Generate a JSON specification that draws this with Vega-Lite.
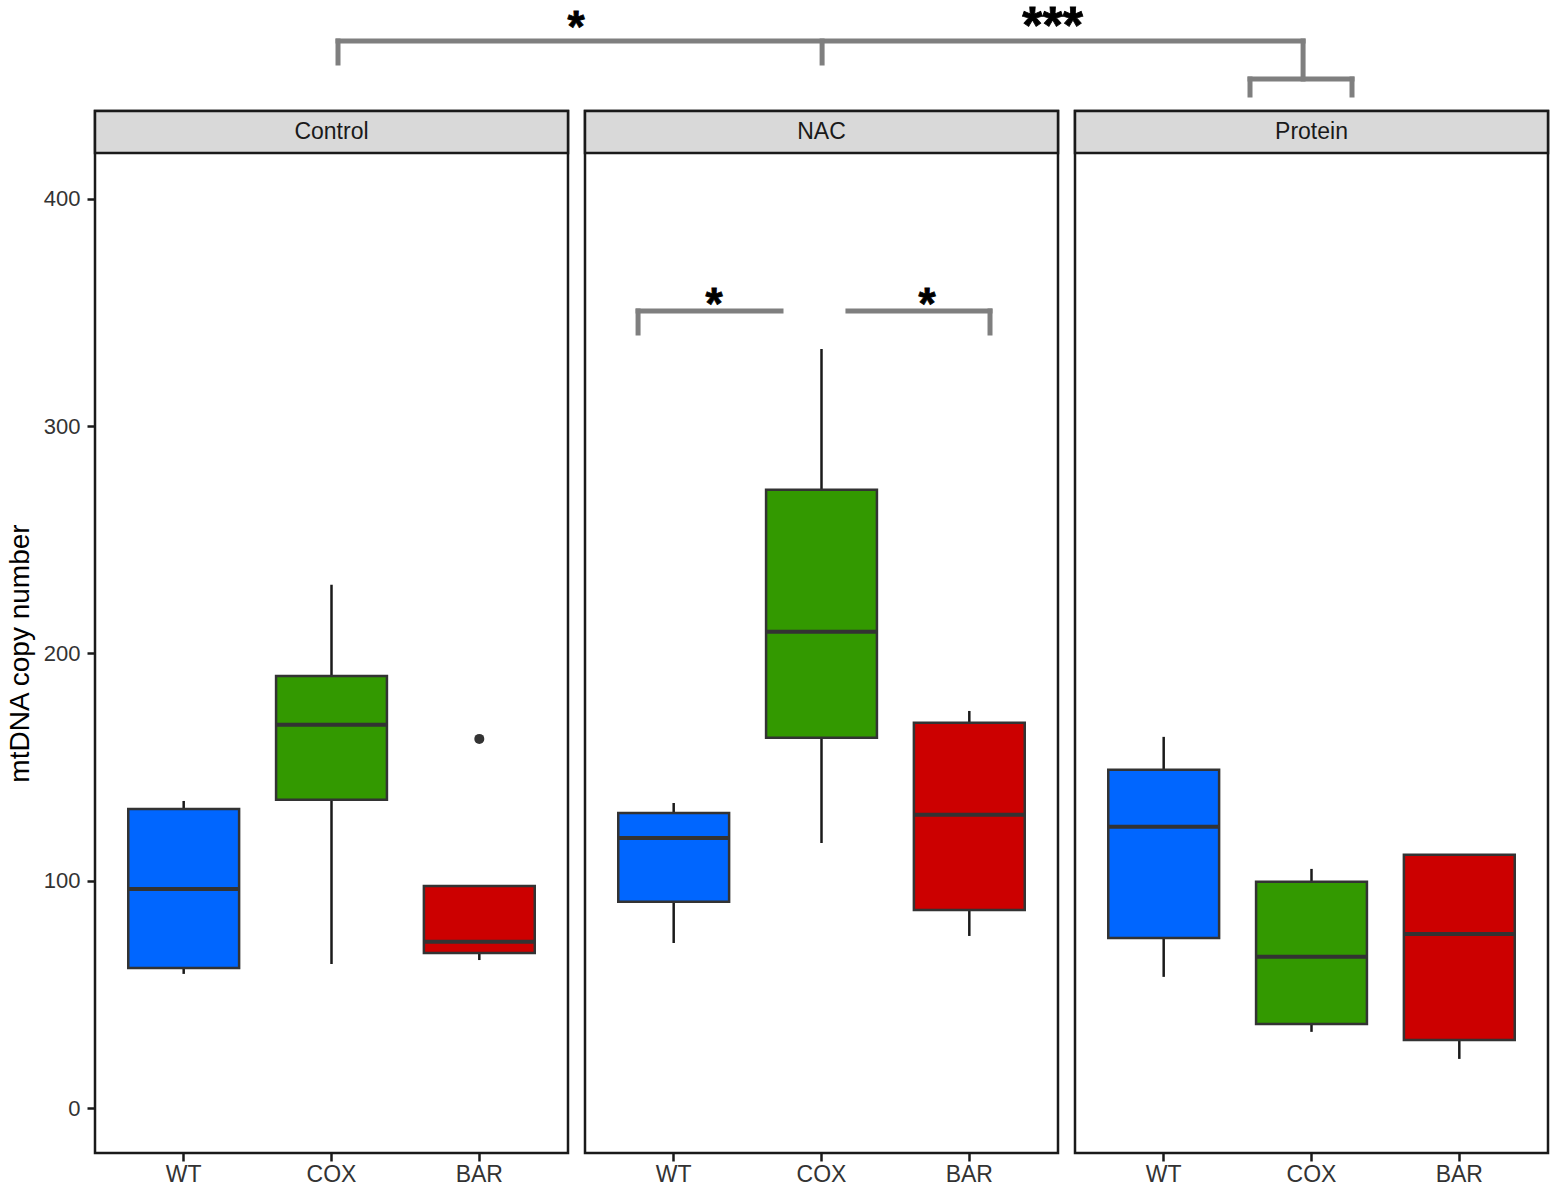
{
  "$schema": "https://vega.github.io/schema/vega-lite/v6.json",
  "description": "mtDNA copy number by genotype, faceted by treatment",
  "padding": {"top": 0, "left": 5, "right": 5, "bottom": 3},
  "config": {
    "font": "Liberation Sans",
    "view": {"stroke": "#1a1a1a", "strokeWidth": 2.5},
    "axis": {"grid": false, "domain": false, "tickColor": "#1a1a1a", "tickWidth": 2.5, "labelColor": "#333333", "titleColor": "#000000", "titleFontWeight": "normal"}
  },
  "spacing": 0,
  "datasets": {
    "boxes": [
      {"panel": "Control", "genotype": "WT", "lower": 59, "q1": 61.6, "median": 96.4, "q3": 131.6, "upper": 135.1},
      {"panel": "Control", "genotype": "COX", "lower": 63.4, "q1": 135.6, "median": 168.6, "q3": 190.1, "upper": 230.2},
      {"panel": "Control", "genotype": "BAR", "lower": 65.1, "q1": 68.2, "median": 73.1, "q3": 97.7, "upper": 97.7},
      {"panel": "NAC", "genotype": "WT", "lower": 72.6, "q1": 90.7, "median": 118.8, "q3": 129.8, "upper": 134.2},
      {"panel": "NAC", "genotype": "COX", "lower": 116.6, "q1": 162.9, "median": 209.5, "q3": 272, "upper": 334},
      {"panel": "NAC", "genotype": "BAR", "lower": 75.7, "q1": 87.1, "median": 129, "q3": 169.5, "upper": 174.7},
      {"panel": "Protein", "genotype": "WT", "lower": 57.7, "q1": 74.8, "median": 123.7, "q3": 148.8, "upper": 163.3},
      {"panel": "Protein", "genotype": "COX", "lower": 33.5, "q1": 37, "median": 66.5, "q3": 99.5, "upper": 105.2},
      {"panel": "Protein", "genotype": "BAR", "lower": 21.6, "q1": 29.9, "median": 76.6, "q3": 111.4, "upper": 111.4}
    ],
    "outliers": [
      {"panel": "Control", "genotype": "BAR", "value": 162.4}
    ],
    "topBrackets": [
      {"x1": 1.644, "x2": 8.173, "y1": 6.7, "y2": 6.7},
      {"x1": 1.644, "x2": 1.644, "y1": 6.7, "y2": 4.5},
      {"x1": 4.919, "x2": 4.919, "y1": 6.7, "y2": 4.5},
      {"x1": 8.173, "x2": 8.173, "y1": 6.7, "y2": 2.9},
      {"x1": 7.814, "x2": 8.504, "y1": 2.9, "y2": 2.9},
      {"x1": 7.814, "x2": 7.814, "y1": 2.9, "y2": 1.3},
      {"x1": 8.504, "x2": 8.504, "y1": 2.9, "y2": 1.3}
    ],
    "topStars": [
      {"x": 3.254, "y": 6.6, "label": "*", "size": 44},
      {"x": 6.478, "y": 6.55, "label": "***", "size": 52}
    ],
    "nacBrackets": [
      {"x1": 0.359, "x2": 1.326, "y1": 350.7, "y2": 350.7},
      {"x1": 0.359, "x2": 0.359, "y1": 350.7, "y2": 341.0},
      {"x1": 1.779, "x2": 2.74, "y1": 350.7, "y2": 350.7},
      {"x1": 2.74, "x2": 2.74, "y1": 350.7, "y2": 341.0}
    ],
    "nacStars": [
      {"x": 0.873, "y": 347.1, "label": "*"},
      {"x": 2.314, "y": 347.1, "label": "*"}
    ]
  },
  "vconcat": [
    {
      "width": 1453,
      "height": 100,
      "view": {"stroke": null},
      "layer": [
        {
          "data": {"name": "topBrackets"},
          "mark": {"type": "rule", "color": "#7f7f7f", "strokeWidth": 5, "strokeCap": "square"},
          "encoding": {
            "x": {"field": "x1", "type": "quantitative", "scale": {"domain": [0, 9.83], "nice": false, "zero": false}, "axis": null},
            "x2": {"field": "x2"},
            "y": {"field": "y1", "type": "quantitative", "scale": {"domain": [0, 10], "nice": false}, "axis": null},
            "y2": {"field": "y2"}
          }
        },
        {
          "data": {"name": "topStars"},
          "mark": {"type": "text", "fontWeight": "bold", "baseline": "alphabetic", "color": "#000000", "stroke": "#000000", "strokeWidth": 0.8},
          "encoding": {
            "x": {"field": "x", "type": "quantitative", "scale": {"domain": [0, 9.83], "nice": false, "zero": false}, "axis": null},
            "y": {"field": "y", "type": "quantitative", "scale": {"domain": [0, 10], "nice": false}, "axis": null},
            "text": {"field": "label"},
            "size": {"field": "size", "type": "quantitative", "scale": null, "legend": null}
          }
        }
      ]
    },
    {
      "hconcat": [
        {
          "width": 473, "height": 1042,
          "layer": [
            {
              "data": {"name": "boxes"},
              "transform": [{"filter": "datum.panel === 'Control'"}],
              "mark": {"type": "rule", "color": "#1a1a1a", "strokeWidth": 2.5},
              "encoding": {
                "x": {"field": "genotype", "type": "nominal", "sort": ["WT", "COX", "BAR"], "scale": {"paddingInner": 0.25, "paddingOuter": 0.225},
                      "axis": {"title": null, "labelAngle": 0, "labelFontSize": 23, "tickSize": 8, "labelPadding": 2}},
                "y": {"field": "lower", "type": "quantitative", "scale": {"domain": [-19.8, 438.68], "nice": false, "zero": false},
                      "title": "mtDNA copy number",
                      "axis": {"values": [0, 100, 200, 300, 400], "labelFontSize": 22, "tickSize": 8, "labelPadding": 7, "titleFontSize": 28, "titlePadding": 9, "titleY": 542}},
                "y2": {"field": "upper"}
              }
            },
            {
              "data": {"name": "boxes"},
              "transform": [{"filter": "datum.panel === 'Control'"}],
              "mark": {"type": "bar", "stroke": "#333333", "strokeWidth": 2.5},
              "encoding": {
                "x": {"field": "genotype", "type": "nominal", "sort": ["WT", "COX", "BAR"]},
                "y": {"field": "q1", "type": "quantitative", "title": "mtDNA copy number"},
                "y2": {"field": "q3"},
                "color": {"field": "genotype", "type": "nominal", "scale": {"domain": ["WT", "COX", "BAR"], "range": ["#0066FF", "#339900", "#CC0000"]}, "legend": null}
              }
            },
            {
              "data": {"name": "boxes"},
              "transform": [{"filter": "datum.panel === 'Control'"}],
              "mark": {"type": "tick", "color": "#333333", "thickness": 4, "size": 111, "opacity": 1},
              "encoding": {
                "x": {"field": "genotype", "type": "nominal", "sort": ["WT", "COX", "BAR"]},
                "y": {"field": "median", "type": "quantitative", "title": "mtDNA copy number"}
              }
            },
            {
              "data": {"name": "outliers"},
              "mark": {"type": "point", "filled": true, "color": "#333333", "size": 100, "opacity": 1},
              "encoding": {
                "x": {"field": "genotype", "type": "nominal", "sort": ["WT", "COX", "BAR"]},
                "y": {"field": "value", "type": "quantitative", "title": "mtDNA copy number"}
              }
            },
            {
              "data": {"values": [{"panel": "Control"}]},
              "layer": [
                {
                  "mark": {"type": "rect", "fill": "#D9D9D9", "stroke": "#1a1a1a", "strokeWidth": 2.5},
                  "encoding": {"y": {"datum": 420.2, "type": "quantitative", "title": "mtDNA copy number"}, "y2": {"datum": 438.68}}
                },
                {
                  "mark": {"type": "text", "fontSize": 23, "color": "#1a1a1a", "baseline": "middle"},
                  "encoding": {"y": {"datum": 429.44, "type": "quantitative", "title": "mtDNA copy number"}, "text": {"field": "panel"}}
                }
              ]
            }
          ]
        },
        {
          "resolve": {"scale": {"x": "independent"}, "axis": {"x": "independent"}},
          "layer": [
            {
              "width": 473, "height": 1042,
              "layer": [
                {
                  "data": {"name": "boxes"},
                  "transform": [{"filter": "datum.panel === 'NAC'"}],
                  "mark": {"type": "rule", "color": "#1a1a1a", "strokeWidth": 2.5},
                  "encoding": {
                    "x": {"field": "genotype", "type": "nominal", "sort": ["WT", "COX", "BAR"], "scale": {"paddingInner": 0.25, "paddingOuter": 0.225},
                          "axis": {"title": null, "labelAngle": 0, "labelFontSize": 23, "tickSize": 8, "labelPadding": 2}},
                    "y": {"field": "lower", "type": "quantitative", "scale": {"domain": [-19.8, 438.68], "nice": false, "zero": false}, "axis": null},
                    "y2": {"field": "upper"}
                  }
                },
                {
                  "data": {"name": "boxes"},
                  "transform": [{"filter": "datum.panel === 'NAC'"}],
                  "mark": {"type": "bar", "stroke": "#333333", "strokeWidth": 2.5},
                  "encoding": {
                    "x": {"field": "genotype", "type": "nominal", "sort": ["WT", "COX", "BAR"]},
                    "y": {"field": "q1", "type": "quantitative", "axis": null},
                    "y2": {"field": "q3"},
                    "color": {"field": "genotype", "type": "nominal", "scale": {"domain": ["WT", "COX", "BAR"], "range": ["#0066FF", "#339900", "#CC0000"]}, "legend": null}
                  }
                },
                {
                  "data": {"name": "boxes"},
                  "transform": [{"filter": "datum.panel === 'NAC'"}],
                  "mark": {"type": "tick", "color": "#333333", "thickness": 4, "size": 111, "opacity": 1},
                  "encoding": {
                    "x": {"field": "genotype", "type": "nominal", "sort": ["WT", "COX", "BAR"]},
                    "y": {"field": "median", "type": "quantitative", "axis": null}
                  }
                },
                {
                  "data": {"values": [{"panel": "NAC"}]},
                  "layer": [
                    {
                      "mark": {"type": "rect", "fill": "#D9D9D9", "stroke": "#1a1a1a", "strokeWidth": 2.5},
                      "encoding": {"y": {"datum": 420.2, "type": "quantitative", "axis": null}, "y2": {"datum": 438.68}}
                    },
                    {
                      "mark": {"type": "text", "fontSize": 23, "color": "#1a1a1a", "baseline": "middle"},
                      "encoding": {"y": {"datum": 429.44, "type": "quantitative", "axis": null}, "text": {"field": "panel"}}
                    }
                  ]
                }
              ]
            },
            {
              "width": 473, "height": 1042,
              "encoding": {
                "x": {"field": "x1", "type": "quantitative", "scale": {"domain": [0, 3.2], "nice": false, "zero": false}, "axis": null}
              },
              "layer": [
                {
                  "data": {"name": "nacBrackets"},
                  "mark": {"type": "rule", "color": "#7f7f7f", "strokeWidth": 5, "strokeCap": "square"},
                  "encoding": {
                    "x2": {"field": "x2"},
                    "y": {"field": "y1", "type": "quantitative", "axis": null},
                    "y2": {"field": "y2"}
                  }
                },
                {
                  "data": {"name": "nacStars"},
                  "mark": {"type": "text", "fontWeight": "bold", "fontSize": 44, "baseline": "alphabetic", "color": "#000000", "stroke": "#000000", "strokeWidth": 0.8},
                  "encoding": {
                    "x": {"field": "x", "type": "quantitative", "scale": {"domain": [0, 3.2], "nice": false, "zero": false}, "axis": null},
                    "y": {"field": "y", "type": "quantitative", "axis": null},
                    "text": {"field": "label"}
                  }
                }
              ]
            }
          ]
        },
        {
          "width": 473, "height": 1042,
          "layer": [
            {
              "data": {"name": "boxes"},
              "transform": [{"filter": "datum.panel === 'Protein'"}],
              "mark": {"type": "rule", "color": "#1a1a1a", "strokeWidth": 2.5},
              "encoding": {
                "x": {"field": "genotype", "type": "nominal", "sort": ["WT", "COX", "BAR"], "scale": {"paddingInner": 0.25, "paddingOuter": 0.225},
                      "axis": {"title": null, "labelAngle": 0, "labelFontSize": 23, "tickSize": 8, "labelPadding": 2}},
                "y": {"field": "lower", "type": "quantitative", "scale": {"domain": [-19.8, 438.68], "nice": false, "zero": false}, "axis": null},
                "y2": {"field": "upper"}
              }
            },
            {
              "data": {"name": "boxes"},
              "transform": [{"filter": "datum.panel === 'Protein'"}],
              "mark": {"type": "bar", "stroke": "#333333", "strokeWidth": 2.5},
              "encoding": {
                "x": {"field": "genotype", "type": "nominal", "sort": ["WT", "COX", "BAR"]},
                "y": {"field": "q1", "type": "quantitative", "axis": null},
                "y2": {"field": "q3"},
                "color": {"field": "genotype", "type": "nominal", "scale": {"domain": ["WT", "COX", "BAR"], "range": ["#0066FF", "#339900", "#CC0000"]}, "legend": null}
              }
            },
            {
              "data": {"name": "boxes"},
              "transform": [{"filter": "datum.panel === 'Protein'"}],
              "mark": {"type": "tick", "color": "#333333", "thickness": 4, "size": 111, "opacity": 1},
              "encoding": {
                "x": {"field": "genotype", "type": "nominal", "sort": ["WT", "COX", "BAR"]},
                "y": {"field": "median", "type": "quantitative", "axis": null}
              }
            },
            {
              "data": {"values": [{"panel": "Protein"}]},
              "layer": [
                {
                  "mark": {"type": "rect", "fill": "#D9D9D9", "stroke": "#1a1a1a", "strokeWidth": 2.5},
                  "encoding": {"y": {"datum": 420.2, "type": "quantitative", "axis": null}, "y2": {"datum": 438.68}}
                },
                {
                  "mark": {"type": "text", "fontSize": 23, "color": "#1a1a1a", "baseline": "middle"},
                  "encoding": {"y": {"datum": 429.44, "type": "quantitative", "axis": null}, "text": {"field": "panel"}}
                }
              ]
            }
          ]
        }
      ],
      "spacing": 11
    }
  ]
}
